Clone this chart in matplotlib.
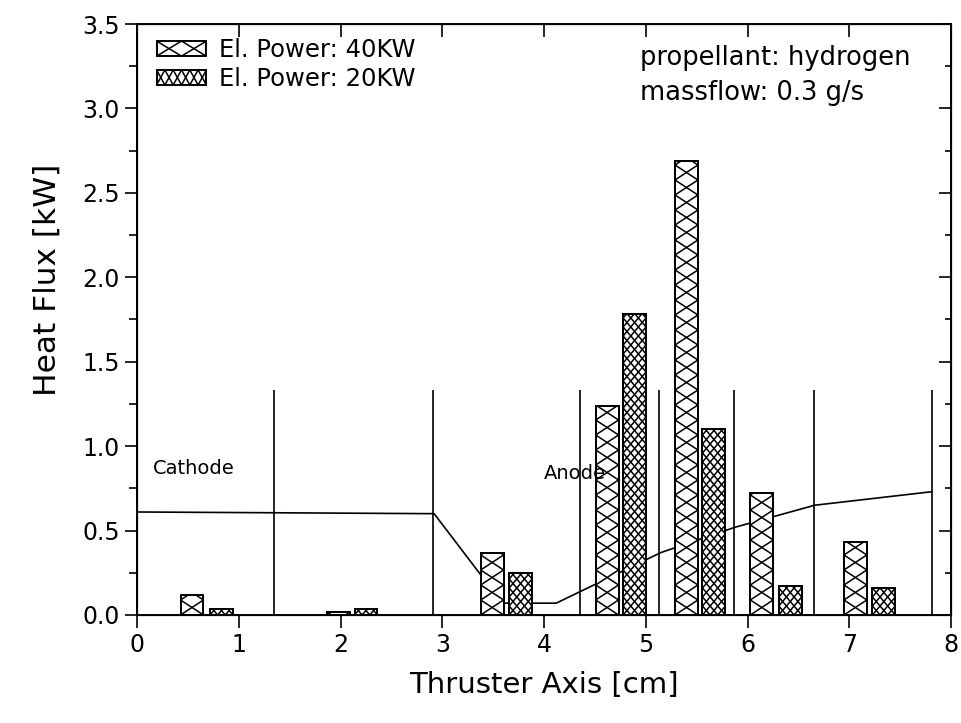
import math

import matplotlib.pyplot as plt
from matplotlib.collections import LineCollection
from matplotlib.legend_handler import HandlerBase
from matplotlib.patches import Rectangle
from matplotlib.ticker import MultipleLocator

# heat flux per segment
pos_40kw = [0.54, 1.98, 3.49, 4.62, 5.40, 6.14, 7.06]
flux_40kw = [0.12, 0.02, 0.37, 1.24, 2.69, 0.72, 0.43]
pos_20kw = [0.83, 2.25, 3.77, 4.89, 5.67, 6.42, 7.34]
flux_20kw = [0.035, 0.035, 0.25, 1.78, 1.10, 0.17, 0.16]

# thruster contour line
contour_x = [0.0, 2.92, 3.59, 4.12, 5.15, 5.88, 6.66, 7.81]
contour_y = [0.61, 0.60, 0.07, 0.07, 0.37, 0.52, 0.65, 0.73]

# segment boundaries
segments = [1.35, 2.91, 4.35, 5.13, 5.87, 6.65, 7.81]
segment_top = 1.33

BAR_W = 0.225
DPI = 100

plt.rcParams["font.family"] = "DejaVu Sans"

fig = plt.figure(figsize=(9.61, 7.23), dpi=DPI)
ax = fig.add_axes([0.1426, 0.1494, 0.847, 0.8174])
ax.set_xlim(0, 8)
ax.set_ylim(0, 3.5)

# pixels per data unit, used to size the hand-drawn cross hatching
px_x = 9.61 * DPI * 0.847 / 8
px_y = 7.23 * DPI * 0.8174 / 3.5


def cross_segments(x0, y0, w, h, ncols, cell_h):
    """X pattern in cells: ncols across, cells of height cell_h."""
    segs = []
    cw = w / ncols
    nrows = max(1, math.ceil(h / cell_h - 1e-6))
    for c in range(ncols):
        xa, xb = x0 + c * cw, x0 + (c + 1) * cw
        for r in range(nrows):
            ya, yb = y0 + r * cell_h, y0 + (r + 1) * cell_h
            segs.append([(xa, ya), (xb, yb)])
            segs.append([(xa, yb), (xb, ya)])
    return segs


def hatched_bars(pos, vals, ncols, cell_px, label):
    bars = ax.bar(pos, vals, width=BAR_W, color="white", edgecolor="k",
                  linewidth=1.4, label=label, zorder=2)
    for rect in bars:
        segs = cross_segments(rect.get_x(), 0, BAR_W, rect.get_height(),
                              ncols, cell_px / px_y)
        lc = LineCollection(segs, colors="k", linewidths=1.1, zorder=2.5)
        ax.add_collection(lc)
        lc.set_clip_path(rect)
        ax.add_patch(Rectangle((rect.get_x(), 0), BAR_W, rect.get_height(),
                               fill=False, edgecolor="k", linewidth=1.4,
                               zorder=2.6))
    return bars


class HatchKey(HandlerBase):
    def __init__(self, ncols):
        super().__init__()
        self.ncols = ncols

    def create_artists(self, legend, orig_handle, xdescent, ydescent,
                       width, height, fontsize, trans):
        x0, y0 = -xdescent, -ydescent
        box = Rectangle((x0, y0), width, height, facecolor="white",
                        edgecolor="k", linewidth=1.4, transform=trans)
        segs = cross_segments(x0, y0, width, height, self.ncols, height)
        lc = LineCollection(segs, colors="k", linewidths=1.1, transform=trans)
        return [box, lc]


ax.vlines(segments, 0, segment_top, colors="k", linewidth=1.2, zorder=1)
ax.plot(contour_x, contour_y, color="k", linewidth=1.2, zorder=1)

b40 = hatched_bars(pos_40kw, flux_40kw, 1, 15, "El. Power: 40KW")
b20 = hatched_bars(pos_20kw, flux_20kw, 3, 9, "El. Power: 20KW")

ax.text(0.16, 0.865, "Cathode", fontsize=14, va="center", zorder=3)
ax.text(4.0, 0.84, "Anode", fontsize=14, va="center", zorder=3)
ax.text(4.94, 3.30, "propellant: hydrogen", fontsize=18.5, va="center")
ax.text(4.94, 3.09, "massflow: 0.3 g/s", fontsize=18.5, va="center")

ax.xaxis.set_major_locator(MultipleLocator(1))
ax.yaxis.set_major_locator(MultipleLocator(0.5))
ax.yaxis.set_minor_locator(MultipleLocator(0.25))
ax.yaxis.set_major_formatter(lambda v, p: f"{v:.1f}")

ax.tick_params(axis="both", which="both", labelsize=17, width=1.2,
               top=False, right=False)
ax.tick_params(axis="x", which="major", direction="out", length=9, pad=4)
ax.tick_params(axis="y", which="major", direction="out", length=9)
ax.tick_params(axis="y", which="minor", direction="out", length=6)
for spine in ax.spines.values():
    spine.set_linewidth(1.4)

# inward ticks on the top and right edges
top = ax.twiny()
top.set_xlim(ax.get_xlim())
top.xaxis.set_major_locator(MultipleLocator(1))
top.tick_params(axis="x", direction="in", length=9, width=1.2, labeltop=False)
right = ax.twinx()
right.set_ylim(ax.get_ylim())
right.yaxis.set_major_locator(MultipleLocator(0.5))
right.yaxis.set_minor_locator(MultipleLocator(0.25))
right.tick_params(axis="y", which="major", direction="in", length=9, width=1.2,
                  labelright=False)
right.tick_params(axis="y", which="minor", direction="in", length=4, width=1.2)

ax.set_xlabel("Thruster Axis [cm]", fontsize=21, labelpad=10)
ax.set_ylabel("Heat Flux [kW]", fontsize=22.5)
ax.yaxis.set_label_coords(-0.092, 0.567)

ax.legend([b40, b20], ["El. Power: 40KW", "El. Power: 20KW"],
          handler_map={b40: HatchKey(2), b20: HatchKey(6)},
          loc="upper left", frameon=False, fontsize=17.5, handlelength=2.05,
          handleheight=0.58, labelspacing=0.2, handletextpad=0.5,
          borderpad=0, borderaxespad=0, bbox_to_anchor=(0.024, 0.976))

fig.savefig("out.png", dpi=DPI)
